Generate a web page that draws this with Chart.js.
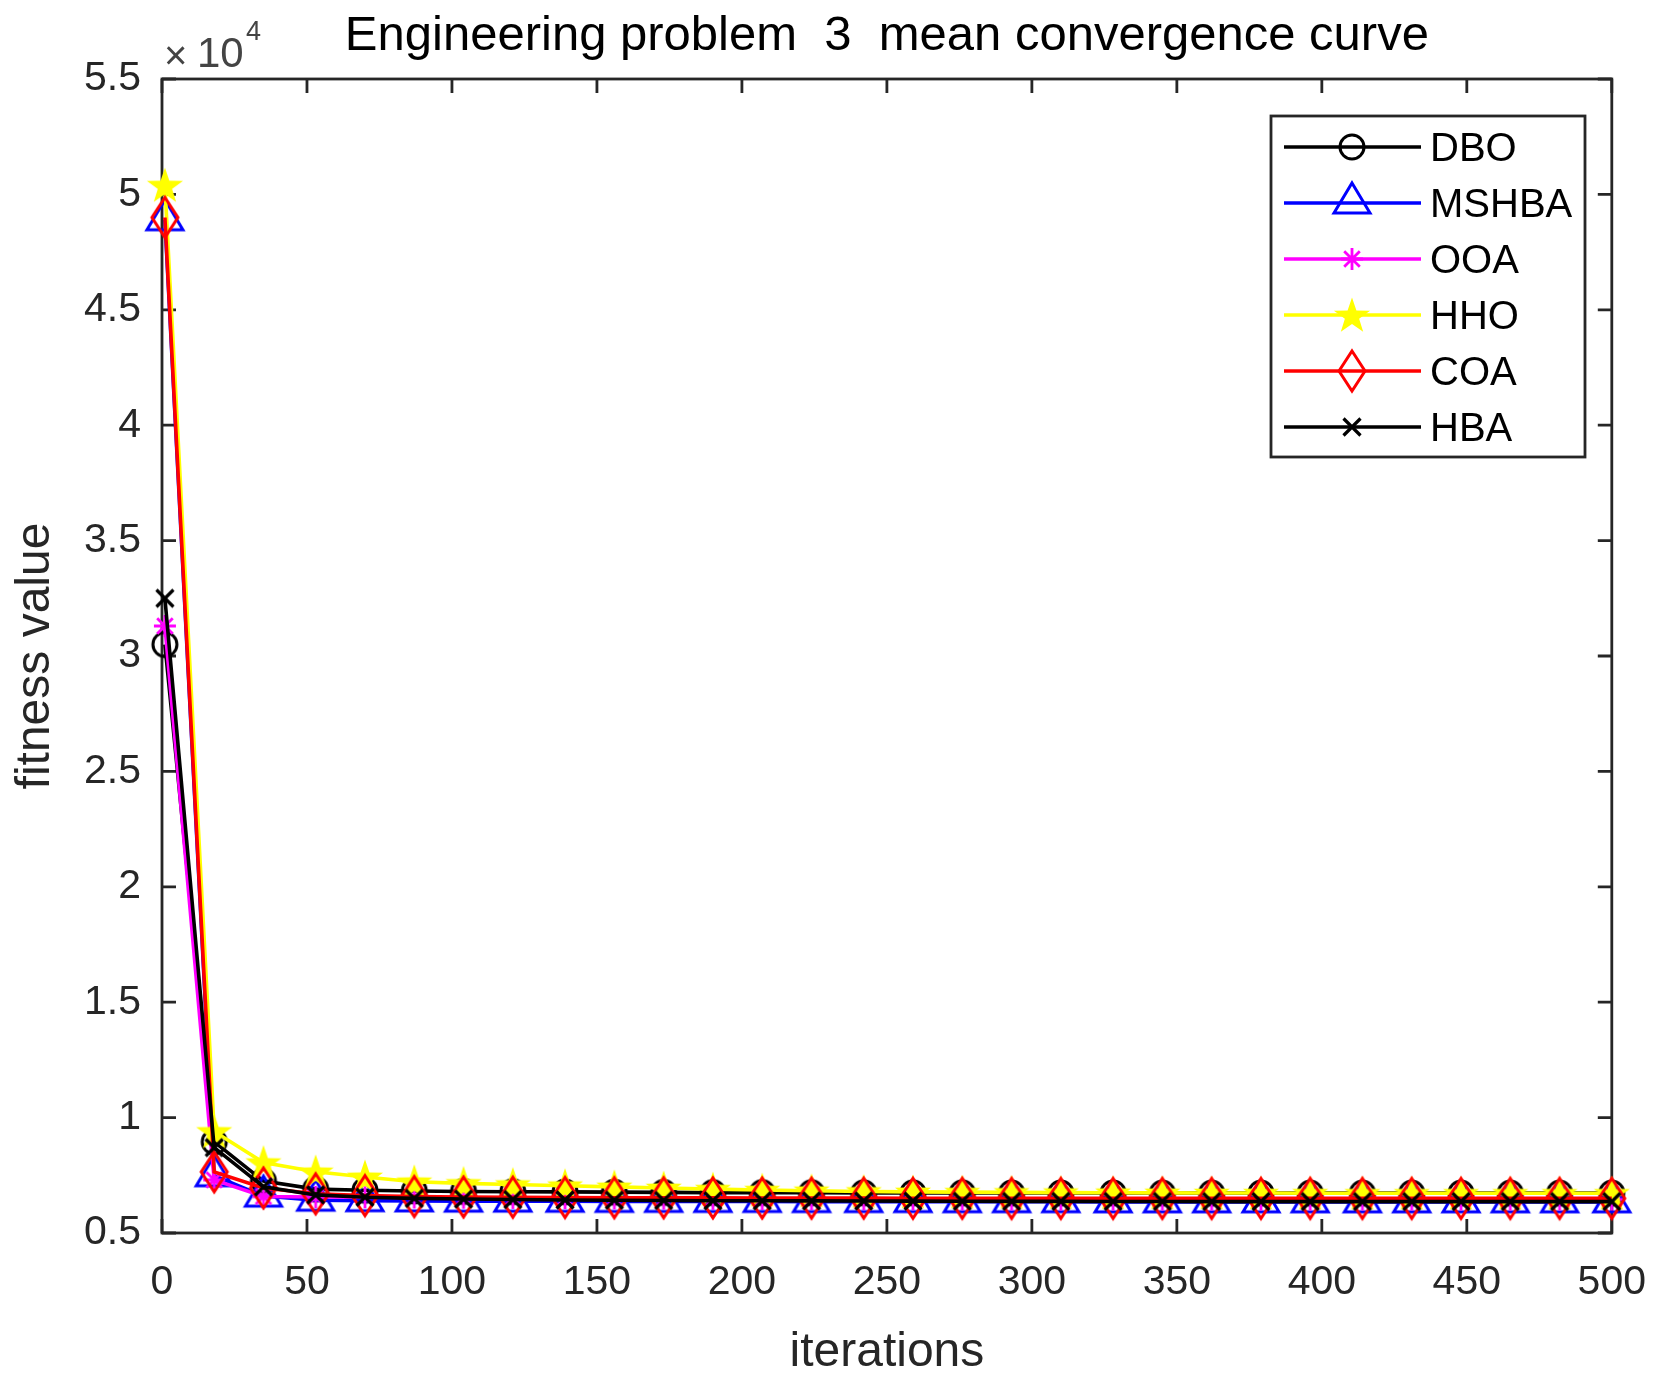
<!DOCTYPE html>
<html><head><meta charset="utf-8">
<script src="https://cdn.jsdelivr.net/npm/chart.js@4.4.1/dist/chart.umd.min.js"></script>
<style>html,body{margin:0;padding:0;background:#fff}canvas{display:block}</style>
</head><body>
<canvas id="c" width="1671" height="1385"></canvas>
<script>
// ---- data ----
const iterations = [1,18,35,53,70,87,104,121,139,156,173,190,207,224,242,259,276,293,310,328,345,362,379,396,414,431,448,465,482,500];
const seriesNames = ['DBO','MSHBA','OOA','HHO','COA','HBA'];
const DBO   = [30500,8950,7250,6900,6850,6820,6800,6790,6780,6770,6760,6750,6750,6745,6740,6740,6740,6735,6735,6735,6730,6730,6730,6730,6730,6730,6730,6730,6730,6730];
const MSHBA = [48900,7480,6600,6420,6400,6390,6380,6380,6375,6370,6370,6365,6365,6360,6360,6360,6355,6355,6355,6350,6350,6350,6350,6350,6350,6350,6350,6350,6350,6350];
const OOA   = [31300,7300,6580,6560,6550,6540,6530,6520,6510,6500,6490,6480,6475,6470,6465,6460,6455,6450,6450,6450,6450,6450,6450,6450,6450,6450,6450,6450,6450,6450];
const HHO   = [50400,9400,8050,7650,7430,7220,7150,7100,7050,7000,6950,6900,6860,6830,6800,6780,6770,6760,6750,6745,6740,6735,6730,6725,6720,6720,6720,6720,6720,6720];
const COA   = [49000,7650,6950,6700,6620,6580,6560,6550,6540,6530,6525,6520,6515,6510,6510,6505,6505,6500,6500,6500,6500,6500,6500,6500,6500,6500,6500,6500,6500,6500];
const HBA   = [32500,8700,7000,6650,6550,6500,6470,6450,6430,6420,6410,6400,6395,6390,6385,6380,6375,6370,6370,6365,6365,6360,6360,6360,6360,6360,6360,6360,6360,6360];
const xTickValues = [0,50,100,150,200,250,300,350,400,450,500];
const xTickLabels = ['0','50','100','150','200','250','300','350','400','450','500'];
const yTickValues = [5000,10000,15000,20000,25000,30000,35000,40000,45000,50000,55000];
const yTickLabels = ['0.5','1','1.5','2','2.5','3','3.5','4','4.5','5','5.5'];
const titleText = 'Engineering problem  3  mean convergence curve';
const xTitle = 'iterations';
const yTitle = 'fitness value';

// ---- styles ----
const FONT = "'Liberation Sans', Arial, Helvetica, sans-serif";
const AX = '#262626';
const styleOf = {
  DBO:   {color:'#000000', marker:'circle'},
  MSHBA: {color:'#0000ff', marker:'triangle'},
  OOA:   {color:'#ff00ff', marker:'asterisk'},
  HHO:   {color:'#ffff00', marker:'pentagram'},
  COA:   {color:'#ff0000', marker:'diamond'},
  HBA:   {color:'#000000', marker:'x'}
};

function makeMarker(kind, color){
  const S = 50, c = document.createElement('canvas');
  c.width = S; c.height = S;
  const g = c.getContext('2d');
  g.translate(S/2, S/2);
  g.strokeStyle = color; g.fillStyle = color; g.lineWidth = 3; g.lineJoin = 'miter';
  g.beginPath();
  if (kind === 'circle') { g.arc(0,0,12,0,Math.PI*2); g.stroke(); }
  else if (kind === 'triangle') { g.moveTo(0,-20); g.lineTo(18,10); g.lineTo(-18,10); g.closePath(); g.stroke(); }
  else if (kind === 'asterisk') {
    for (let k=0;k<4;k++){ const a=k*Math.PI/4; g.moveTo(-11*Math.cos(a),-11*Math.sin(a)); g.lineTo(11*Math.cos(a),11*Math.sin(a)); }
    g.lineWidth = 2.8; g.stroke();
  }
  else if (kind === 'pentagram') {
    for (let k=0;k<10;k++){ const r = k%2 ? 7.5 : 19; const a = -Math.PI/2 + k*Math.PI/5;
      const px = r*Math.cos(a), py = r*Math.sin(a) + 1.5; k ? g.lineTo(px,py) : g.moveTo(px,py); }
    g.closePath(); g.fill();
  }
  else if (kind === 'diamond') { g.moveTo(0,-20); g.lineTo(13,0); g.lineTo(0,20); g.lineTo(-13,0); g.closePath(); g.stroke(); }
  else if (kind === 'x') { g.moveTo(-8.5,-8.5); g.lineTo(8.5,8.5); g.moveTo(8.5,-8.5); g.lineTo(-8.5,8.5); g.lineWidth = 3.2; g.stroke(); }
  return c;
}

const seriesData = {DBO, MSHBA, OOA, HHO, COA, HBA};
const markers = {};
seriesNames.forEach(n => markers[n] = makeMarker(styleOf[n].marker, styleOf[n].color));

const datasets = seriesNames.map((n, i) => ({
  label: n,
  data: iterations.map((it, k) => ({x: it, y: seriesData[n][k]})),
  borderColor: styleOf[n].color,
  backgroundColor: styleOf[n].color,
  borderWidth: 3.6,
  tension: 0,
  pointStyle: markers[n],
  pointRadius: 12,
  pointHoverRadius: 12,
  clip: false,
  order: seriesNames.length - 1 - i
}));

const axesPlugin = {
  id: 'axesBox',
  beforeDatasetsDraw(chart){
    const {ctx, chartArea: a, scales: {x, y}} = chart;
    ctx.save();
    ctx.strokeStyle = AX; ctx.lineWidth = 2.8;
    ctx.strokeRect(a.left, a.top, a.right - a.left, a.bottom - a.top);
    ctx.beginPath();
    const TL = 14;
    x.ticks.forEach(t => { const p = x.getPixelForValue(t.value);
      ctx.moveTo(p, a.bottom); ctx.lineTo(p, a.bottom - TL);
      ctx.moveTo(p, a.top); ctx.lineTo(p, a.top + TL); });
    y.ticks.forEach(t => { const p = y.getPixelForValue(t.value);
      ctx.moveTo(a.left, p); ctx.lineTo(a.left + TL, p);
      ctx.moveTo(a.right, p); ctx.lineTo(a.right - TL, p); });
    ctx.stroke();
    // exponent label
    ctx.fillStyle = '#444444';
    ctx.textAlign = 'left'; ctx.textBaseline = 'alphabetic';
    ctx.font = '40px ' + FONT;
    ctx.fillText('\u00d7', a.left + 2, a.top - 10);
    ctx.font = '42px ' + FONT;
    ctx.fillText('10', a.left + 35, a.top - 12);
    ctx.font = '27px ' + FONT;
    ctx.fillText('4', a.left + 84, a.top - 39);
    ctx.restore();
  },
  afterDraw(chart){
    const ctx = chart.ctx;
    const box = {l: 1271, t: 116, r: 1585, b: 457};
    ctx.save();
    ctx.fillStyle = '#ffffff';
    ctx.fillRect(box.l, box.t, box.r - box.l, box.b - box.t);
    ctx.strokeStyle = AX; ctx.lineWidth = 2.8;
    ctx.strokeRect(box.l, box.t, box.r - box.l, box.b - box.t);
    seriesNames.forEach((n, i) => {
      const yy = 147 + i * 56;
      ctx.strokeStyle = styleOf[n].color; ctx.lineWidth = 3.6;
      ctx.beginPath(); ctx.moveTo(1284, yy); ctx.lineTo(1421, yy); ctx.stroke();
      const m = markers[n];
      ctx.drawImage(m, 1352 - m.width/2, yy - m.height/2);
      ctx.fillStyle = '#000000';
      ctx.font = '40px ' + FONT;
      ctx.textAlign = 'left'; ctx.textBaseline = 'middle';
      ctx.fillText(n, 1430, yy + 3);
    });
    ctx.restore();
  }
};

new Chart(document.getElementById('c'), {
  type: 'line',
  data: {datasets},
  plugins: [axesPlugin],
  options: {
    responsive: false,
    animation: false,
    devicePixelRatio: 1,
    layout: {padding: {left: 0, right: 49, top: 0, bottom: 0}},
    plugins: {
      legend: {display: false},
      tooltip: {enabled: false},
      title: {
        display: true, text: titleText, fullSize: false,
        color: '#000000', font: {family: FONT, size: 49, weight: 'normal', lineHeight: 1.2},
        padding: {top: 6.6, bottom: 13.6}
      }
    },
    scales: {
      x: {
        type: 'linear', min: 0, max: 500,
        afterBuildTicks: s => { s.ticks = xTickValues.map(v => ({value: v})); },
        ticks: {
          callback: v => xTickLabels[xTickValues.indexOf(v)],
          color: AX, font: {family: FONT, size: 41}, padding: 25, maxRotation: 0, autoSkip: false
        },
        grid: {display: false, drawTicks: false},
        border: {display: false},
        title: {display: true, text: xTitle, color: AX, font: {family: FONT, size: 48, lineHeight: 1.2}, padding: {top: 0, bottom: 3}},
        afterFit: s => { s.height = 152; }
      },
      y: {
        type: 'linear', min: 5000, max: 55000,
        afterBuildTicks: s => { s.ticks = yTickValues.map(v => ({value: v})); },
        ticks: {
          callback: v => yTickLabels[yTickValues.indexOf(v)],
          color: AX, font: {family: FONT, size: 41}, padding: 21, autoSkip: false
        },
        grid: {display: false, drawTicks: false},
        border: {display: false},
        title: {display: true, text: yTitle, color: AX, font: {family: FONT, size: 48, lineHeight: 1.2}, padding: {top: 7, bottom: 0}},
        afterFit: s => { s.width = 162; }
      }
    }
  }
});
</script>
</body></html>
